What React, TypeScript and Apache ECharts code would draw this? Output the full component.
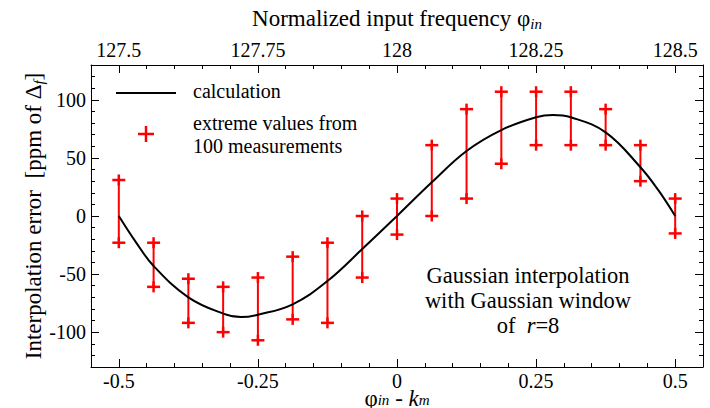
import React, { useEffect, useRef } from "react";
import * as echarts from "echarts";

const FONT = "Liberation Serif";

// calculation curve
const calcX = [-0.5, -0.47, -0.4375, -0.375, -0.3125, -0.28, -0.25, -0.1875, -0.125, -0.0625, 0, 0.0625, 0.125, 0.1875, 0.25, 0.28, 0.3125, 0.375, 0.4375, 0.47, 0.5];
const calcY = [0, -22, -43, -70, -84, -87, -85, -76, -56, -28.5, 0, 29, 56, 74, 85, 87, 85, 72, 42, 22, 0];

// extreme values from 100 measurements
const errX = [-0.5, -0.4375, -0.375, -0.3125, -0.25, -0.1875, -0.125, -0.0625, 0, 0.0625, 0.125, 0.1875, 0.25, 0.3125, 0.375, 0.4375, 0.5];
const errLow = [-23, -61, -92, -100, -107, -89, -92, -53, -16, 0, 15, 45, 61, 61, 61, 30, -15];
const errHigh = [31, -23, -54, -61, -53, -35, -23, 0, 15, 61, 92, 107, 107, 107, 92, 61, 15];

// ticks
const xMajor = [-0.5, -0.25, 0, 0.25, 0.5];
const xMinor = [-0.5, -0.45, -0.4, -0.35, -0.3, -0.25, -0.2, -0.15, -0.1, -0.05, 0, 0.05, 0.1, 0.15, 0.2, 0.25, 0.3, 0.35, 0.4, 0.45, 0.5];
const topMajor = [127.5, 127.75, 128, 128.25, 128.5];
const topMinor = [127.5, 127.55, 127.6, 127.65, 127.7, 127.75, 127.8, 127.85, 127.9, 127.95, 128, 128.05, 128.1, 128.15, 128.2, 128.25, 128.3, 128.35, 128.4, 128.45, 128.5];
const yMajor = [-100, -50, 0, 50, 100];
const yMinor = [-120, -110, -100, -90, -80, -70, -60, -50, -40, -30, -20, -10, 0, 10, 20, 30, 40, 50, 60, 70, 80, 90, 100, 110, 120];

const RED = "#ff0000";

export default function App() {
  const ref = useRef<HTMLDivElement>(null);
  useEffect(() => {
    if (!ref.current) return;
    const chart = echarts.init(ref.current, null, { renderer: "svg" });
    const labelStyle = { fontFamily: FONT, fontSize: 20, lineHeight: 16, color: "#000" };
    const nameStyle = (lh: number) => ({
      fontFamily: FONT,
      fontSize: 23,
      lineHeight: lh,
      color: "#000",
      rich: {
        sub: { fontFamily: FONT, fontSize: 15, lineHeight: 15, fontStyle: "italic", verticalAlign: "bottom", color: "#000" },
        it: { fontFamily: FONT, fontSize: 23, lineHeight: lh, fontStyle: "italic", color: "#000" },
      },
    });
    const majorAxis = (pos: string, min: number, max: number, majors: number[], showLabel: boolean, margin: number, name?: string, nameGap?: number, nameLH?: number) => ({
      type: "value",
      position: pos,
      min,
      max,
      name: name || "",
      nameLocation: "middle",
      nameGap: nameGap || 0,
      nameMoveOverlap: false,
      nameTextStyle: nameStyle(nameLH || 26),
      axisLine: { show: true, onZero: false, lineStyle: { color: "#000", width: 1 } },
      axisTick: { show: true, inside: true, length: 8, customValues: majors, lineStyle: { color: "#000", width: 1 } },
      axisLabel: { show: showLabel, customValues: majors, margin, ...labelStyle },
      splitLine: { show: false },
    });
    const minorAxis = (pos: string, min: number, max: number, minors: number[]) => ({
      type: "value",
      position: pos,
      min,
      max,
      axisLine: { show: false, onZero: false },
      axisTick: { show: true, inside: true, length: 4, customValues: minors, lineStyle: { color: "#000", width: 1 } },
      axisLabel: { show: false },
      splitLine: { show: false },
    });

    const option: any = {
      animation: false,
      backgroundColor: "#fff",
      textStyle: { fontFamily: FONT },
      grid: { left: 91, right: 7, top: 65, bottom: 41, containLabel: false, outerBoundsMode: "none" },
      xAxis: [
        majorAxis("bottom", -0.55, 0.55, xMajor, true, 6, "φ{sub|in} - {it|k}{sub|m}", 22, 18),
        minorAxis("bottom", -0.55, 0.55, xMinor),
        majorAxis("top", 127.45, 128.55, topMajor, true, 7, "Normalized input frequency φ{sub|in}", 34, 26),
        minorAxis("top", 127.45, 128.55, topMinor),
      ],
      yAxis: [
        majorAxis("left", -130, 130, yMajor, true, 5, "Interpolation error \u00a0[ppm of Δ{sub|f}]", 45, 26),
        minorAxis("left", -130, 130, yMinor),
        majorAxis("right", -130, 130, yMajor, false, 5),
        minorAxis("right", -130, 130, yMinor),
      ],
      series: [
        {
          type: "custom",
          name: "extreme values from 100 measurements",
          xAxisIndex: 0,
          yAxisIndex: 0,
          encode: { x: 0, y: [1, 2] },
          data: errX.map((x, i) => [x, errLow[i], errHigh[i]]),
          z: 2,
          renderItem: (params: any, api: any) => {
            const x = api.value(0);
            const pLo = api.coord([x, api.value(1)]);
            const pHi = api.coord([x, api.value(2)]);
            const h = 6.5;
            const st = { stroke: RED, lineWidth: 2.5 };
            const cross = (p: number[]) => [
              { type: "line", shape: { x1: p[0] - h, y1: p[1], x2: p[0] + h, y2: p[1] }, style: st },
              { type: "line", shape: { x1: p[0], y1: p[1] - 5.5, x2: p[0], y2: p[1] + 5.5 }, style: st },
            ];
            return {
              type: "group",
              children: [
                { type: "line", shape: { x1: pLo[0], y1: pLo[1], x2: pHi[0], y2: pHi[1] }, style: { stroke: RED, lineWidth: 2 } },
                ...cross(pLo),
                ...cross(pHi),
              ],
            };
          },
        },
        {
          type: "line",
          name: "calculation",
          xAxisIndex: 0,
          yAxisIndex: 0,
          data: calcX.map((x, i) => [x, calcY[i]]),
          showSymbol: false,
          smooth: 0.4,
          z: 3,
          lineStyle: { color: "#000", width: 2 },
        },
      ],
      graphic: [
        { type: "line", shape: { x1: 116, y1: 93, x2: 176, y2: 93 }, style: { stroke: "#000", lineWidth: 2 } },
        { type: "text", x: 193, y: 91, style: { text: "calculation", font: "20px Liberation Serif", fill: "#000", verticalAlign: "middle" } },
        { type: "line", shape: { x1: 138, y1: 134, x2: 154, y2: 134 }, style: { stroke: RED, lineWidth: 2.5 } },
        { type: "line", shape: { x1: 146, y1: 126, x2: 146, y2: 142 }, style: { stroke: RED, lineWidth: 2.5 } },
        { type: "text", x: 193, y: 123, style: { text: "extreme values from", font: "20px Liberation Serif", fill: "#000", verticalAlign: "middle" } },
        { type: "text", x: 193, y: 146, style: { text: "100 measurements", font: "20px Liberation Serif", fill: "#000", verticalAlign: "middle" } },
        { type: "text", x: 528, y: 275, style: { text: "Gaussian interpolation", font: "22.5px Liberation Serif", fill: "#000", align: "center", verticalAlign: "middle" } },
        { type: "text", x: 528, y: 300, style: { text: "with Gaussian window", font: "22.5px Liberation Serif", fill: "#000", align: "center", verticalAlign: "middle" } },
        {
          type: "text",
          x: 528,
          y: 325,
          style: {
            text: "of \u00a0{i|r}=8",
            font: "22.5px Liberation Serif",
            fill: "#000",
            align: "center",
            verticalAlign: "middle",
            rich: { i: { font: "italic 22.5px Liberation Serif", fill: "#000" } },
          },
        },
      ],
    };
    chart.setOption(option);
    return () => chart.dispose();
  }, []);
  return <div ref={ref} style={{ position: "fixed", left: 0, top: 0, width: 710, height: 408 }} />;
}
